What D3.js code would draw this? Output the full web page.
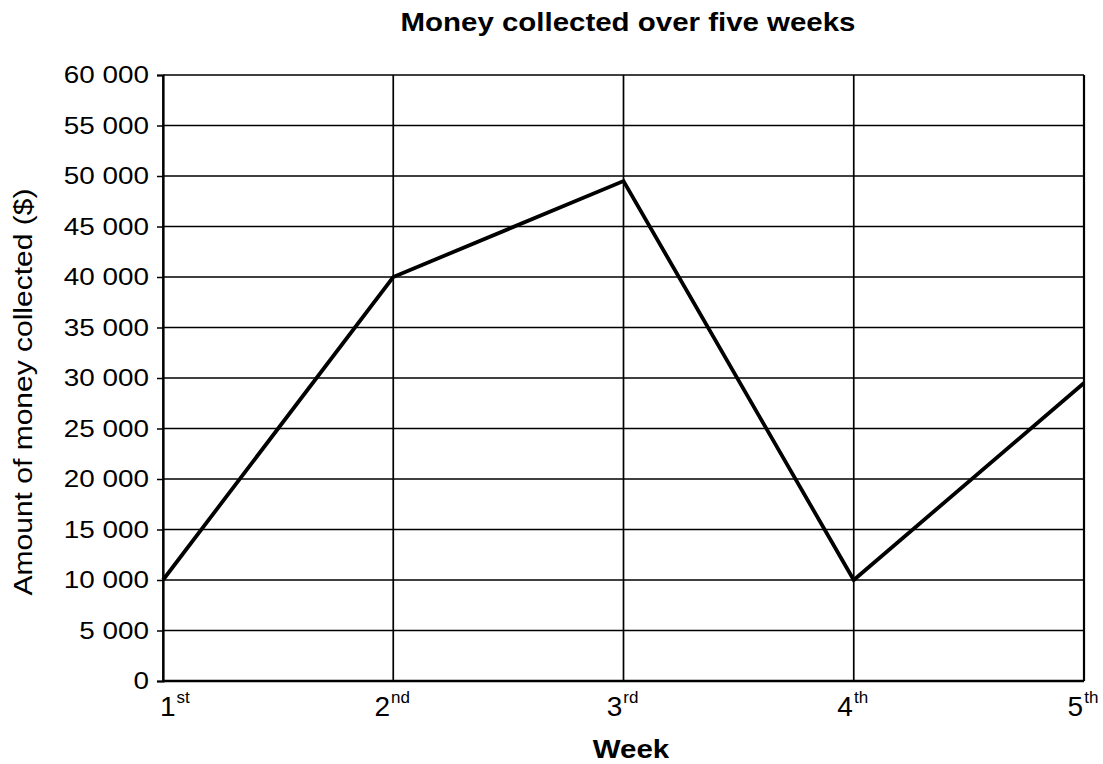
<!DOCTYPE html>
<html lang="en">
<head>
  <meta charset="utf-8">
  <script src="https://d3js.org/d3.v7.min.js"></script>
  <style>
    body { margin: 0; background: #fff; }
    text { font-family: "Liberation Sans", Arial, sans-serif; fill: #000; }
  </style>
</head>
<body>
<script>
  // data
  const weeks = ["1", "2", "3", "4", "5"];
  const suffixes = ["st", "nd", "rd", "th", "th"];
  const money = [10000, 40000, 49500, 10000, 29500];
  const yTicks = [0, 5000, 10000, 15000, 20000, 25000, 30000, 35000, 40000, 45000, 50000, 55000, 60000];

  const w = 1103, h = 764;
  // plot edges (window.top is taken, so use a prefix)
  const plotLeft = 163, plotRight = 1084, plotTop = 75, plotBottom = 681;

  const svg = d3.select("body").append("svg")
      .attr("width", w)
      .attr("height", h);

  const x = d3.scalePoint().domain(weeks).range([plotLeft, plotRight]);
  const y = d3.scaleLinear().domain([0, 60000]).range([plotBottom, plotTop]);

  // stretch text sideways a bit, the scan is wider than the font
  const stretch = (sel, k) => sel.each(function() {
    const len = this.getComputedTextLength();
    d3.select(this).attr("textLength", len * k).attr("lengthAdjust", "spacingAndGlyphs");
  });

  // horizontal grid
  svg.append("g")
    .selectAll("line")
    .data(yTicks)
    .join("line")
      .attr("x1", plotLeft).attr("x2", plotRight)
      .attr("y1", d => y(d)).attr("y2", d => y(d))
      .attr("stroke", "#000")
      .attr("stroke-width", 1.7);

  // vertical grid
  svg.append("g")
    .selectAll("line")
    .data(weeks)
    .join("line")
      .attr("x1", d => x(d)).attr("x2", d => x(d))
      .attr("y1", plotTop).attr("y2", plotBottom)
      .attr("stroke", "#000")
      .attr("stroke-width", 1.7);

  // y axis
  const yAxis = d3.axisLeft(y)
      .tickValues(yTicks)
      .tickSize(6)
      .tickPadding(8)
      .tickFormat(d => d === 0 ? "0" : d3.format(",")(d).replace(",", " "));

  const gy = svg.append("g")
      .attr("transform", "translate(" + plotLeft + ",0)")
      .call(yAxis);
  gy.select(".domain").attr("stroke-width", 2.2);
  gy.selectAll(".tick line").attr("stroke-width", 1.5);
  gy.selectAll("text")
      .attr("font-size", 24)
      .attr("font-family", "Liberation Sans, Arial, sans-serif")
      .call(stretch, 1.16);

  // bottom and right frame
  svg.append("line")
      .attr("x1", plotLeft).attr("x2", plotRight)
      .attr("y1", plotBottom).attr("y2", plotBottom)
      .attr("stroke", "#000").attr("stroke-width", 2.5);
  svg.append("line")
      .attr("x1", plotRight).attr("x2", plotRight)
      .attr("y1", plotTop).attr("y2", plotBottom)
      .attr("stroke", "#000").attr("stroke-width", 2.2);

  // x tick labels with superscripts
  const xl = svg.append("g")
    .selectAll("text")
    .data(weeks)
    .join("text")
      .attr("x", (d, i) => i === 0 ? x(d) - 3 : x(d) - 1)
      .attr("y", 716)
      .attr("text-anchor", (d, i) => i === 0 ? "start" : "middle");
  xl.append("tspan")
      .attr("font-size", 28)
      .text(d => d);
  xl.append("tspan")
      .attr("font-size", 17)
      .attr("dx", 1)
      .attr("dy", -13)
      .text((d, i) => suffixes[i]);

  // the line
  const line = d3.line()
      .x((d, i) => x(weeks[i]))
      .y(d => y(d));

  svg.append("path")
      .datum(money)
      .attr("d", line)
      .attr("fill", "none")
      .attr("stroke", "#000")
      .attr("stroke-width", 3.8)
      .attr("stroke-linejoin", "miter");

  // titles
  svg.append("text")
      .attr("x", 628)
      .attr("y", 31)
      .attr("text-anchor", "middle")
      .attr("font-size", 25)
      .attr("font-weight", "bold")
      .attr("textLength", 455)
      .attr("lengthAdjust", "spacingAndGlyphs")
      .text("Money collected over five weeks");

  svg.append("text")
      .attr("x", 631)
      .attr("y", 758)
      .attr("text-anchor", "middle")
      .attr("font-size", 25)
      .attr("font-weight", "bold")
      .text("Week")
      .call(stretch, 1.18);

  svg.append("text")
      .attr("transform", "translate(32,392) rotate(-90)")
      .attr("text-anchor", "middle")
      .attr("font-size", 25)
      .text("Amount of money collected ($)")
      .call(stretch, 1.2);
</script>
</body>
</html>
